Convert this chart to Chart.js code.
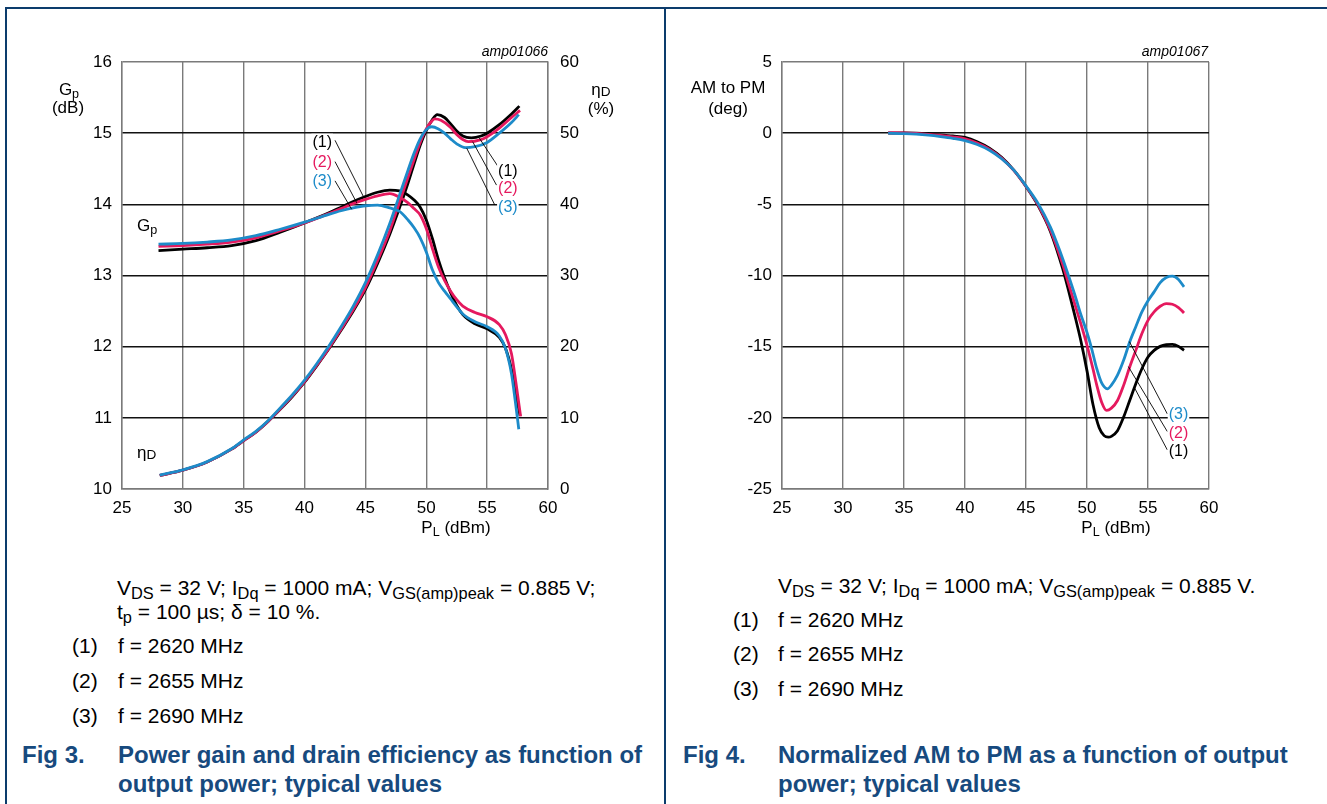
<!DOCTYPE html>
<html>
<head>
<meta charset="utf-8">
<script src="https://cdn.jsdelivr.net/npm/chart.js@4.4.1/dist/chart.umd.min.js"></script>
<style>
body{margin:0;background:#fff;font-family:'Liberation Sans',Arial,sans-serif;color:#000;}
#page{position:relative;width:1327px;height:804px;overflow:hidden;background:#fff;}
.box{position:absolute;top:0;height:560px;}
.frame{position:absolute;background:#0c3c6c;}
.t{position:absolute;white-space:nowrap;line-height:1;}
.c{transform:translate(-50%,-50%);}
.m{transform:translateY(-50%);}
.r{transform:translate(-100%,-50%);}
sub{font-size:0.74em;vertical-align:-0.28em;line-height:0;}
.ax{font-size:17px;}
.cap{font-size:21px;}
.cap sub{font-size:0.78em;}
.fig{font-size:24px;font-weight:bold;color:#174a7e;}
.id{font-size:14px;font-style:italic;}
</style>
</head>
<body>
<div id="page">
  <div class="frame" style="left:5px;top:7px;width:1322px;height:1.6px;"></div>
  <div class="frame" style="left:5px;top:7px;width:1.6px;height:797px;"></div>
  <div class="frame" style="left:664px;top:7px;width:1.6px;height:797px;"></div>

  <div class="box" style="left:0;width:665px;"><canvas id="chart-gain"></canvas></div>
  <div class="box" style="left:665px;width:662px;"><canvas id="chart-ampm"></canvas></div>

  <!-- fig 3 axis texts -->
  <div class="t ax c" style="left:69px;top:89px;">G<sub>p</sub></div>
  <div class="t ax c" style="left:68px;top:107px;">(dB)</div>
  <div class="t ax c" style="left:601px;top:89px;">η<sub style="font-size:0.8em;vertical-align:-0.1em">D</sub></div>
  <div class="t ax c" style="left:601px;top:108px;">(%)</div>
  <div class="t id r" style="left:548px;top:51px;">amp01066</div>
  <div class="t ax c" style="left:456px;top:527px;">P<sub>L</sub> (dBm)</div>
  <div class="t ax m" style="left:137px;top:225px;">G<sub>p</sub></div>
  <div class="t ax m" style="left:137px;top:452px;">η<sub style="font-size:0.8em;vertical-align:-0.1em">D</sub></div>

  <!-- fig 4 axis texts -->
  <div class="t ax c" style="left:728px;top:87px;">AM to PM</div>
  <div class="t ax c" style="left:728px;top:108px;">(deg)</div>
  <div class="t id r" style="left:1208px;top:51px;">amp01067</div>
  <div class="t ax c" style="left:1116px;top:527px;">P<sub>L</sub> (dBm)</div>

  <!-- fig 3 caption -->
  <div class="t cap m" style="left:117px;top:587px;">V<sub>DS</sub> = 32 V; I<sub>Dq</sub> = 1000 mA; V<sub>GS(amp)peak</sub> = 0.885 V;</div>
  <div class="t cap m" style="left:117px;top:611px;">t<sub>p</sub> = 100 µs; δ = 10 %.</div>
  <div class="t cap m" style="left:72px;top:645px;">(1)</div>
  <div class="t cap m" style="left:118px;top:645px;">f = 2620 MHz</div>
  <div class="t cap m" style="left:72px;top:680px;">(2)</div>
  <div class="t cap m" style="left:118px;top:680px;">f = 2655 MHz</div>
  <div class="t cap m" style="left:72px;top:715px;">(3)</div>
  <div class="t cap m" style="left:118px;top:715px;">f = 2690 MHz</div>
  <div class="t fig m" style="left:22px;top:755px;">Fig 3.</div>
  <div class="t fig m" style="left:118px;top:755px;">Power gain and drain efficiency as function of</div>
  <div class="t fig m" style="left:118px;top:784px;">output power; typical values</div>

  <!-- fig 4 caption -->
  <div class="t cap m" style="left:778px;top:585px;">V<sub>DS</sub> = 32 V; I<sub>Dq</sub> = 1000 mA; V<sub>GS(amp)peak</sub> = 0.885 V.</div>
  <div class="t cap m" style="left:733px;top:619px;">(1)</div>
  <div class="t cap m" style="left:778px;top:619px;">f = 2620 MHz</div>
  <div class="t cap m" style="left:733px;top:653px;">(2)</div>
  <div class="t cap m" style="left:778px;top:653px;">f = 2655 MHz</div>
  <div class="t cap m" style="left:733px;top:688px;">(3)</div>
  <div class="t cap m" style="left:778px;top:688px;">f = 2690 MHz</div>
  <div class="t fig m" style="left:683px;top:755px;">Fig 4.</div>
  <div class="t fig m" style="left:778px;top:755px;">Normalized AM to PM as a function of output</div>
  <div class="t fig m" style="left:778px;top:784px;">power; typical values</div>
</div>

<script>
// [PL (dBm), value]

// power gain Gp (dB)
const gp2620 = [[28,13.35],[30,13.37],[32,13.39],[34,13.42],[36,13.49],[38,13.61],[40,13.74],[42,13.88],[43,13.96],[44,14.04],[45,14.11],[46,14.17],[47,14.2],[47.8,14.19],[48.5,14.13],[49,14.06],[49.5,13.96],[50,13.78],[50.5,13.52],[51,13.22],[51.5,12.97],[52,12.76],[52.5,12.58],[53,12.45],[54,12.32],[55,12.25],[56,12.13],[56.5,11.98],[57,11.68],[57.4,11.3],[57.7,11.03]];
const gp2655 = [[28,13.41],[30,13.42],[32,13.44],[34,13.47],[36,13.53],[38,13.63],[40,13.74],[42,13.87],[43,13.94],[44,14.01],[45,14.07],[46,14.12],[47,14.15],[47.8,14.1],[48.5,14.02],[49,13.94],[49.5,13.85],[50,13.66],[50.5,13.38],[51,13.12],[51.5,12.93],[52,12.78],[52.5,12.66],[53,12.57],[54,12.48],[55,12.42],[56,12.31],[56.5,12.17],[57,11.9],[57.4,11.45],[57.75,11.02]];
const gp2690 = [[28,13.44],[30,13.45],[32,13.47],[34,13.5],[36,13.56],[38,13.65],[40,13.75],[42,13.86],[43,13.91],[44,13.95],[45,13.98],[46,13.99],[47,13.95],[47.8,13.9],[48.5,13.78],[49,13.67],[49.5,13.53],[50,13.33],[50.5,13.08],[51,12.9],[51.5,12.78],[52,12.67],[52.5,12.56],[53,12.46],[54,12.35],[55,12.28],[56,12.15],[56.5,11.98],[57,11.62],[57.3,11.25],[57.6,10.84]];

// drain efficiency (%)
const eff2620 = [[28.1,1.9],[30,2.65],[32,3.8],[34,5.6],[35,6.8],[36,8.0],[37,9.5],[38,11.2],[39,13.0],[40,15.0],[41,17.3],[42,19.7],[43,22.3],[44,25.0],[45,28.0],[46,31.7],[47,35.8],[47.8,39.5],[48.5,43.0],[49,45.7],[49.5,48.3],[50,50.4],[50.5,51.9],[50.9,52.6],[51.5,52.2],[52,51.3],[52.5,50.3],[53,49.6],[53.7,49.35],[54.5,49.6],[55,50.0],[56,51.2],[57,52.7],[57.65,53.8]];
const eff2655 = [[28.1,1.9],[30,2.65],[32,3.8],[34,5.6],[35,6.8],[36,8.0],[37,9.5],[38,11.25],[39,13.1],[40,15.1],[41,17.4],[42,19.8],[43,22.45],[44,25.2],[45,28.3],[46,32.1],[47,36.3],[47.8,40.3],[48.5,43.8],[49,46.3],[49.5,48.7],[50,50.6],[50.4,51.6],[50.7,52.0],[51.2,51.8],[52,50.8],[52.5,49.8],[53,49.1],[53.45,48.8],[54.5,49.1],[55,49.5],[56,50.7],[57,52.2],[57.7,53.2]];
const eff2690 = [[28.1,1.95],[30,2.7],[32,3.85],[34,5.65],[35,6.9],[36,8.1],[37,9.6],[38,11.4],[39,13.25],[40,15.3],[41,17.6],[42,20.1],[43,22.8],[44,25.7],[45,29.0],[46,32.9],[47,37.3],[47.8,41.3],[48.5,44.8],[49,47.2],[49.5,49.2],[50,50.5],[50.45,50.9],[51,50.6],[51.5,50.0],[52,49.2],[52.5,48.5],[53.2,47.96],[54,48.1],[55,48.7],[56,50.0],[57,51.5],[57.6,52.6]];

// normalized AM to PM (deg)
const ampm2620 = [[33.7,0],[35,0.02],[36,0],[37,-0.05],[38,-0.12],[39,-0.2],[40,-0.3],[41,-0.6],[42,-1.05],[43,-1.7],[44,-2.6],[45,-3.75],[46,-5.1],[47,-6.9],[48,-9.5],[48.5,-11.1],[49,-12.8],[49.5,-14.6],[50,-16.7],[50.5,-19.1],[51,-20.7],[51.4,-21.25],[51.75,-21.36],[52,-21.3],[52.5,-20.9],[53,-19.95],[53.5,-18.78],[54,-17.6],[54.5,-16.55],[55,-15.73],[55.5,-15.26],[56,-14.98],[56.5,-14.86],[57,-14.84],[57.5,-14.98],[57.95,-15.26]];
const ampm2655 = [[33.7,0.03],[35,0.02],[36,-0.02],[37,-0.08],[38,-0.16],[39,-0.26],[40,-0.4],[41,-0.7],[42,-1.12],[43,-1.75],[44,-2.62],[45,-3.75],[46,-5.05],[47,-6.8],[48,-9.2],[48.5,-10.6],[49,-12.0],[49.5,-13.4],[50,-14.9],[50.5,-16.6],[50.8,-17.7],[51.2,-18.9],[51.61,-19.48],[52,-19.32],[52.5,-18.78],[53,-17.72],[53.5,-16.43],[54,-15.26],[54.5,-14.08],[55,-13.15],[55.5,-12.56],[56,-12.16],[56.5,-11.97],[57,-12.02],[57.5,-12.25],[57.95,-12.63]];
const ampm2690 = [[33.7,0],[35,-0.03],[36,-0.07],[37,-0.14],[38,-0.24],[39,-0.36],[40,-0.52],[41,-0.8],[42,-1.2],[43,-1.8],[44,-2.6],[45,-3.7],[46,-4.95],[47,-6.6],[47.5,-7.65],[48,-8.8],[48.5,-10.05],[49,-11.35],[49.5,-12.75],[50,-14.0],[50.4,-15.2],[50.8,-16.55],[51.2,-17.55],[51.67,-17.96],[52,-17.7],[52.5,-17.0],[53,-15.96],[53.5,-14.67],[54,-13.6],[54.5,-12.56],[55,-11.78],[55.5,-11.15],[56,-10.5],[56.5,-10.14],[57,-10.05],[57.5,-10.28],[57.95,-10.8]];

const black = '#000000', red = '#e5195e', blue = '#1d8bc9';
const gridGray = '#7a7a7a', gridDark = '#111111';

// curve tags: text, colour, label point, leader line start, leader line end (data units)
const gainTags = [
    ['(1)', black, 41.45, 14.88, 42.5, 14.9, 44.83, 14.11],
    ['(2)', red, 41.45, 14.6, 42.5, 14.6, 44.29, 14.02],
    ['(3)', blue, 41.45, 14.33, 42.5, 14.33, 43.87, 13.93],
    ['(1)', black, 56.7, 14.48, 55.9, 14.53, 54.36, 14.93],
    ['(2)', red, 56.7, 14.23, 55.77, 14.27, 53.81, 14.88],
    ['(3)', blue, 56.7, 13.97, 55.63, 13.99, 53.32, 14.79],
];
const ampmTags = [
    ['(3)', blue, 57.5, -19.72, 56.58, -19.72, 53.47, -14.64],
    ['(2)', red, 57.5, -21.03, 56.58, -20.96, 53.39, -16.4],
    ['(1)', black, 57.5, -22.32, 56.58, -22.25, 53.9, -17.9],
];

Chart.defaults.font.family = "'Liberation Sans', Arial, sans-serif";
Chart.defaults.font.size = 17;
Chart.defaults.color = '#000';

function pts(arr) {
    return arr.map(p => ({x: p[0], y: p[1]}));
}

function curve(arr, color, axis, order) {
    return {
        data: pts(arr),
        yAxisID: axis,
        borderColor: color,
        borderWidth: 2.8,
        pointRadius: 0,
        tension: 0.4,
        cubicInterpolationMode: 'monotone',
        fill: false,
        order: order,
    };
}

function makeTags(id, axis, items) {
    return {
        id: id,
        afterDatasetsDraw(chart) {
            const ctx = chart.ctx;
            const xs = chart.scales.x, ys = chart.scales[axis];
            ctx.save();
            ctx.font = "16px 'Liberation Sans', Arial, sans-serif";
            ctx.textAlign = 'center';
            ctx.textBaseline = 'middle';
            items.forEach(t => {
                ctx.strokeStyle = '#000';
                ctx.lineWidth = 0.9;
                ctx.beginPath();
                ctx.moveTo(xs.getPixelForValue(t[4]), ys.getPixelForValue(t[5]));
                ctx.lineTo(xs.getPixelForValue(t[6]), ys.getPixelForValue(t[7]));
                ctx.stroke();
                const px = xs.getPixelForValue(t[2]), py = ys.getPixelForValue(t[3]);
                const w = ctx.measureText(t[0]).width;
                ctx.fillStyle = '#fff';
                ctx.fillRect(px - w / 2 - 1, py - 8, w + 2, 16);
                ctx.fillStyle = t[1];
                ctx.fillText(t[0], px, py + 1);
            });
            ctx.restore();
        }
    };
}

function edgeColor(lo, hi) {
    return c => (c.tick && (c.tick.value === lo || c.tick.value === hi)) ? gridGray : gridDark;
}

let xAxis = {
    type: 'linear',
    min: 25,
    max: 60,
    ticks: {stepSize: 5, padding: 9},
    grid: {color: gridGray, lineWidth: 1.4, drawTicks: false},
    border: {color: gridGray, width: 1.4},
    afterFit: s => { s.height = 71; },
};

new Chart(document.getElementById('chart-gain').getContext('2d'), {
    type: 'line',
    data: {
        datasets: [
            curve(gp2620, black, 'y', 3),
            curve(gp2655, red, 'y', 2),
            curve(gp2690, blue, 'y', 1),
            curve(eff2620, black, 'y2', 3),
            curve(eff2655, red, 'y2', 2),
            curve(eff2690, blue, 'y2', 1),
        ]
    },
    options: {
        responsive: true,
        maintainAspectRatio: false,
        animation: false,
        layout: {padding: {left: 0, right: 0, top: 62, bottom: 0}},
        plugins: {legend: {display: false}, tooltip: {enabled: false}},
        scales: {
            x: xAxis,
            y: {
                position: 'left',
                min: 10,
                max: 16,
                ticks: {stepSize: 1, padding: 10},
                grid: {color: edgeColor(10, 16), lineWidth: 1.4, drawTicks: false},
                border: {color: gridGray, width: 1.4},
                afterFit: s => { s.width = 122; },
            },
            y2: {
                position: 'right',
                min: 0,
                max: 60,
                ticks: {stepSize: 10, padding: 12},
                grid: {drawOnChartArea: false, drawTicks: false},
                border: {color: gridGray, width: 1.4},
                afterFit: s => { s.width = 117; },
            },
        },
    },
    plugins: [makeTags('gainTags', 'y', gainTags)],
});

new Chart(document.getElementById('chart-ampm').getContext('2d'), {
    type: 'line',
    data: {
        datasets: [
            curve(ampm2620, black, 'y', 3),
            curve(ampm2655, red, 'y', 2),
            curve(ampm2690, blue, 'y', 1),
        ]
    },
    options: {
        responsive: true,
        maintainAspectRatio: false,
        animation: false,
        layout: {padding: {left: 0, right: 118, top: 62, bottom: 0}},
        plugins: {legend: {display: false}, tooltip: {enabled: false}},
        scales: {
            x: xAxis,
            y: {
                position: 'left',
                min: -25,
                max: 5,
                ticks: {stepSize: 5, padding: 10},
                grid: {color: edgeColor(-25, 5), lineWidth: 1.4, drawTicks: false},
                border: {color: gridGray, width: 1.4},
                afterFit: s => { s.width = 117; },
            },
        },
    },
    plugins: [makeTags('ampmTags', 'y', ampmTags)],
});
</script>
</body>
</html>
